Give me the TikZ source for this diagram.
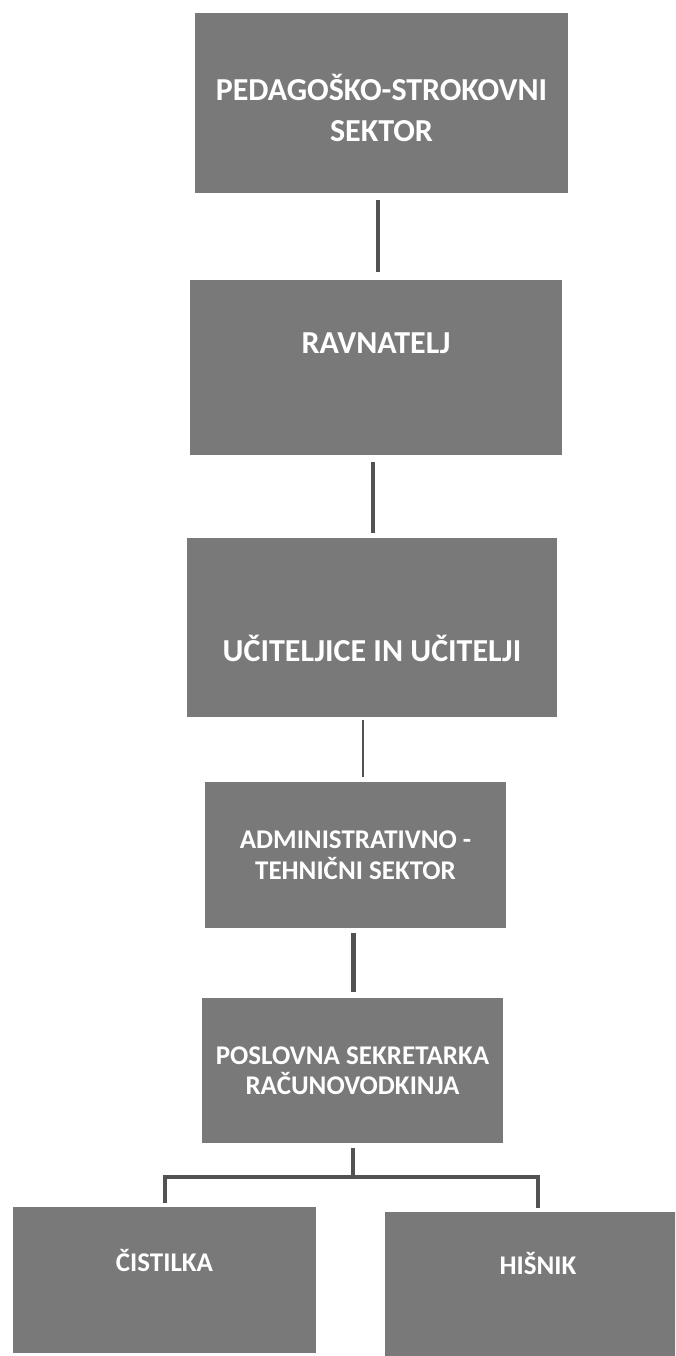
\documentclass[tikz,border=0pt]{standalone}
\usepackage{fontspec}
\setmainfont{Carlito}
\usepackage{tikz}
\definecolor{boxgray}{HTML}{797979}
\definecolor{linegray}{HTML}{525252}

\begin{document}
\begin{tikzpicture}[x=1pt, y=-1pt,
			box/.style={fill=boxgray, text=white, align=center, inner sep=0pt},
			big/.style={font=\fontsize{32}{41}\selectfont\bfseries},
			small/.style={font=\fontsize{27}{30.5}\selectfont\bfseries},
			conn/.style={draw=linegray, line width=4pt},
			thinconn/.style={draw=linegray, line width=1.5pt}
			]
			\clip (0,0) rectangle (675,1356);
			
			% Pedagosko-strokovni sektor
			\node[box, big, minimum width=373pt, minimum height=180pt] (sektor) at (381.5,103) {\rule{0pt}{36pt}PEDAGOŠKO-STROKOVNI\\SEKTOR};
			
			% Ravnatelj
			\node[box, big, minimum width=372pt, minimum height=175pt, text height=21pt, text depth=49pt] (ravnatelj) at (376,367.5) {RAVNATELJ};
			
			% Ucitelji
			\node[box, big, minimum width=370pt, minimum height=179pt, text height=67pt, text depth=0pt] (ucitelji) at (372,627.5) {UČITELJICE IN UČITELJI};
			
			% Administrativno-tehnicni sektor
			\node[box, small, minimum width=301pt, minimum height=146pt] (admin) at (355.5,855) {ADMINISTRATIVNO -\\TEHNIČNI SEKTOR};
			
			% Sekretarka
			\node[box, small, minimum width=301pt, minimum height=145pt] (sekretarka) at (352.5,1070.5) {POSLOVNA SEKRETARKA\\RAČUNOVODKINJA};
			
			% Cistilka, hisnik
			\node[box, small, minimum width=303pt, minimum height=146pt, text height=18pt, text depth=36pt] (cistilka) at (164.5,1280) {ČISTILKA};
			\node[box, small, minimum width=306pt, minimum height=144pt, text height=18pt, text depth=38pt] (hisnik) at (538,1284) {HIŠNIK};
			
			% Connectors
			\draw[conn] ([xshift=-3.5pt, yshift=-7pt]sektor.south) -- ([xshift=-3.5pt, yshift=8pt]sektor.south |- ravnatelj.north);
			\draw[conn] ([xshift=-3pt, yshift=-7pt]ravnatelj.south) -- ([xshift=-3pt, yshift=5pt]ravnatelj.south |- ucitelji.north);
			\draw[thinconn] ([xshift=-9pt, yshift=-3pt]ucitelji.south) -- ([xshift=-9pt, yshift=5pt]ucitelji.south |- admin.north);
			\draw[conn, line width=5pt] ([xshift=-2.5pt, yshift=-5pt]admin.south) -- ([xshift=-2.5pt, yshift=6pt]admin.south |- sekretarka.north);
			
			\coordinate (razcep) at ([yshift=-34pt]sekretarka.south);
			\draw[conn] ([yshift=-5pt]sekretarka.south) -- (razcep);
			\draw[conn] ([yshift=4pt]cistilka.north) |- (razcep) -| ([yshift=4pt]hisnik.north);
			
		\end{tikzpicture}
\end{document}
